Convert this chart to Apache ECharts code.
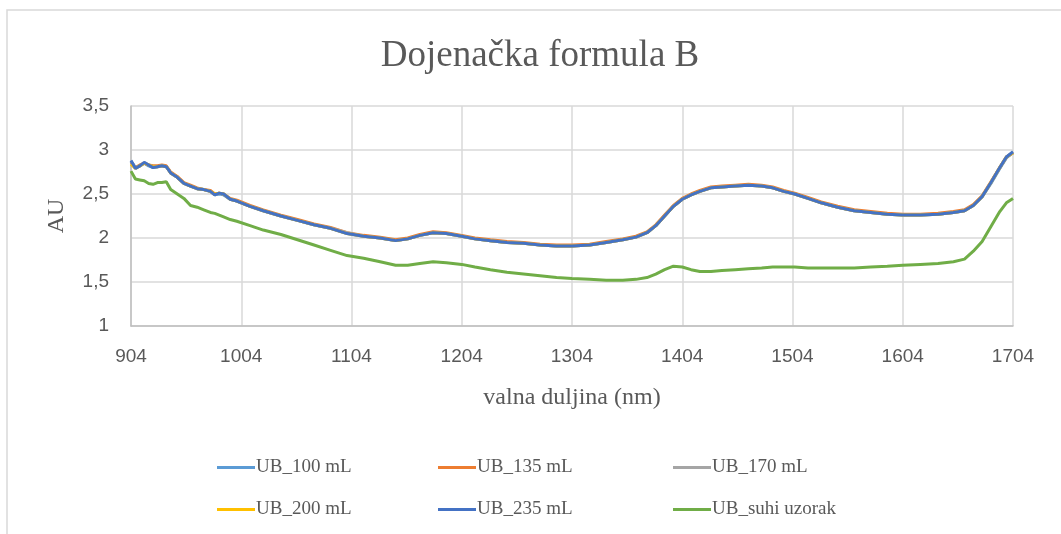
<!DOCTYPE html>
<html>
<head>
<meta charset="utf-8">
<script src="https://cdn.jsdelivr.net/npm/echarts@6/dist/echarts.min.js"></script>
<style>
  html, body { margin: 0; padding: 0; background: #fff; }
  #chart { width: 1061px; height: 534px; }
</style>
</head>
<body>
<div id="chart"></div>
<script>
// valna duljina (nm)
const wavelengths = [904,908,912,916,920,924,928,932,936,940,946,952,958,964,970,976,980,984,988,994,1000,1012,1024,1040,1055,1070,1085,1100,1115,1130,1144,1155,1166,1178,1190,1204,1216,1230,1245,1260,1275,1290,1304,1320,1335,1350,1362,1372,1380,1388,1396,1404,1412,1420,1430,1440,1452,1464,1476,1486,1496,1506,1518,1530,1545,1560,1575,1590,1604,1620,1636,1650,1660,1668,1676,1684,1692,1698,1704];

const ub100 = [2.87,2.80,2.82,2.85,2.82,2.80,2.81,2.82,2.81,2.74,2.69,2.62,2.59,2.56,2.55,2.53,2.49,2.50,2.49,2.44,2.42,2.36,2.31,2.25,2.20,2.15,2.11,2.05,2.02,2.00,1.97,1.99,2.03,2.06,2.05,2.02,1.99,1.97,1.95,1.94,1.92,1.91,1.91,1.92,1.95,1.98,2.01,2.06,2.14,2.25,2.36,2.44,2.49,2.53,2.57,2.58,2.59,2.60,2.59,2.57,2.53,2.50,2.45,2.40,2.35,2.31,2.29,2.27,2.26,2.26,2.27,2.29,2.31,2.37,2.47,2.62,2.79,2.91,2.97];
const ub135 = [2.86,2.80,2.83,2.85,2.83,2.82,2.82,2.83,2.82,2.75,2.70,2.63,2.60,2.57,2.55,2.54,2.50,2.51,2.50,2.45,2.43,2.37,2.32,2.26,2.21,2.16,2.12,2.06,2.03,2.01,1.98,2.00,2.04,2.07,2.06,2.03,2.00,1.98,1.96,1.95,1.93,1.92,1.92,1.93,1.96,1.99,2.02,2.07,2.15,2.26,2.37,2.45,2.50,2.54,2.58,2.59,2.60,2.61,2.60,2.58,2.54,2.51,2.46,2.41,2.36,2.32,2.30,2.28,2.27,2.27,2.28,2.30,2.32,2.38,2.48,2.64,2.80,2.92,2.97];
const ub170 = [2.87,2.80,2.82,2.85,2.83,2.81,2.81,2.82,2.81,2.74,2.69,2.62,2.59,2.56,2.55,2.53,2.49,2.51,2.50,2.44,2.42,2.36,2.31,2.25,2.20,2.15,2.11,2.06,2.02,2.00,1.97,1.99,2.03,2.06,2.05,2.02,1.99,1.97,1.95,1.94,1.92,1.91,1.91,1.92,1.95,1.98,2.01,2.06,2.14,2.25,2.36,2.44,2.49,2.53,2.57,2.58,2.59,2.60,2.59,2.57,2.53,2.50,2.45,2.40,2.35,2.31,2.29,2.27,2.26,2.26,2.27,2.29,2.31,2.37,2.47,2.63,2.80,2.92,2.97];
const ub200 = [2.84,2.79,2.82,2.85,2.83,2.81,2.81,2.82,2.81,2.74,2.69,2.62,2.59,2.56,2.55,2.53,2.50,2.51,2.50,2.44,2.42,2.36,2.31,2.25,2.20,2.15,2.11,2.05,2.02,2.00,1.97,1.99,2.03,2.06,2.05,2.02,1.99,1.97,1.95,1.94,1.92,1.91,1.91,1.92,1.95,1.98,2.01,2.06,2.14,2.25,2.36,2.44,2.49,2.53,2.57,2.58,2.59,2.60,2.59,2.57,2.53,2.50,2.45,2.40,2.35,2.31,2.29,2.27,2.26,2.26,2.27,2.29,2.31,2.37,2.47,2.63,2.80,2.92,2.97];
const ub235 = [2.88,2.79,2.82,2.86,2.83,2.80,2.81,2.82,2.81,2.74,2.69,2.62,2.59,2.56,2.55,2.53,2.49,2.51,2.50,2.44,2.42,2.36,2.31,2.25,2.20,2.15,2.11,2.05,2.02,2.00,1.97,1.99,2.03,2.06,2.05,2.02,1.99,1.97,1.95,1.94,1.92,1.91,1.91,1.92,1.95,1.98,2.01,2.06,2.14,2.25,2.36,2.44,2.49,2.53,2.57,2.58,2.59,2.60,2.59,2.57,2.53,2.50,2.45,2.40,2.35,2.31,2.29,2.27,2.26,2.26,2.27,2.29,2.31,2.37,2.47,2.63,2.80,2.92,2.98];
const ubSuhi = [2.76,2.67,2.66,2.65,2.62,2.61,2.63,2.63,2.64,2.55,2.50,2.45,2.37,2.35,2.32,2.29,2.28,2.26,2.24,2.21,2.19,2.14,2.09,2.04,1.98,1.92,1.86,1.80,1.77,1.73,1.69,1.69,1.71,1.73,1.72,1.70,1.67,1.64,1.61,1.59,1.57,1.55,1.54,1.53,1.52,1.52,1.53,1.55,1.59,1.64,1.68,1.67,1.64,1.62,1.62,1.63,1.64,1.65,1.66,1.67,1.67,1.67,1.66,1.66,1.66,1.66,1.67,1.68,1.69,1.70,1.71,1.73,1.76,1.85,1.96,2.13,2.30,2.40,2.45];

const seriesNames = ['UB_100 mL', 'UB_135 mL', 'UB_170 mL', 'UB_200 mL', 'UB_235 mL', 'UB_suhi uzorak'];
const seriesValues = [ub100, ub135, ub170, ub200, ub235, ubSuhi];
const seriesColors = ['#5B9BD5', '#ED7D31', '#A5A5A5', '#FFC000', '#4472C4', '#70AD47'];

const legendLeft = [212, 433, 668];
const legendTop = [453, 495];

const chart = echarts.init(document.getElementById('chart'));

const serif = 'Liberation Serif';
const sans = 'Liberation Sans';
const textGrey = '#595959';

const legends = seriesNames.map((name, i) => ({
    data: [name],
    left: legendLeft[i % 3],
    top: legendTop[Math.floor(i / 3)],
    icon: 'rect',
    itemWidth: 38,
    itemHeight: 3,
    itemGap: 0,
    selectedMode: false,
    textStyle: { fontFamily: serif, fontSize: 19, color: textGrey, padding: [0, 0, 0, -4] }
}));

const option = {
    animation: false,
    backgroundColor: '#fff',
    title: {
        text: 'Dojenačka formula B',
        left: 535,
        textAlign: 'center',
        top: 33,
        textStyle: { fontFamily: serif, fontSize: 37, fontWeight: 'normal', color: textGrey }
    },
    legend: legends,
    grid: { left: 131, right: 48, top: 106, height: 220, containLabel: false },
    xAxis: {
        type: 'value',
        min: 904,
        max: 1704,
        interval: 100,
        name: 'valna duljina (nm)',
        nameLocation: 'middle',
        nameGap: 60,
        nameTextStyle: { fontFamily: serif, fontSize: 24, color: textGrey },
        axisLine: { show: true, lineStyle: { color: '#bfbfbf', width: 1.5 } },
        axisTick: { show: false },
        splitLine: { show: true, lineStyle: { color: '#d9d9d9', width: 1.5 } },
        axisLabel: { fontFamily: sans, fontSize: 19, color: textGrey, margin: 21, formatter: v => String(v) }
    },
    yAxis: {
        type: 'value',
        min: 1,
        max: 3.5,
        interval: 0.5,
        name: 'AU',
        nameLocation: 'middle',
        nameGap: 62,
        nameTextStyle: { fontFamily: serif, fontSize: 24, color: textGrey },
        axisLine: { show: true, lineStyle: { color: '#bfbfbf', width: 1.5 } },
        axisTick: { show: false },
        splitLine: { show: true, lineStyle: { color: '#d9d9d9', width: 1.5 } },
        axisLabel: {
            fontFamily: sans, fontSize: 19, color: textGrey, margin: 22,
            formatter: v => String(v).replace('.', ',')
        }
    },
    series: seriesNames.map((name, i) => ({
        name: name,
        type: 'line',
        data: wavelengths.map((x, j) => [x, seriesValues[i][j]]),
        showSymbol: false,
        symbol: 'none',
        lineStyle: { width: 3, color: seriesColors[i] },
        itemStyle: { color: seriesColors[i] },
        emphasis: { disabled: true }
    })),
    graphic: [{
        type: 'rect',
        shape: { x: 7, y: 10, width: 1200, height: 700 },
        style: { fill: 'none', stroke: '#d9d9d9', lineWidth: 1.5 },
        silent: true,
        z: -1
    }]
};

chart.setOption(option);
</script>
</body>
</html>
